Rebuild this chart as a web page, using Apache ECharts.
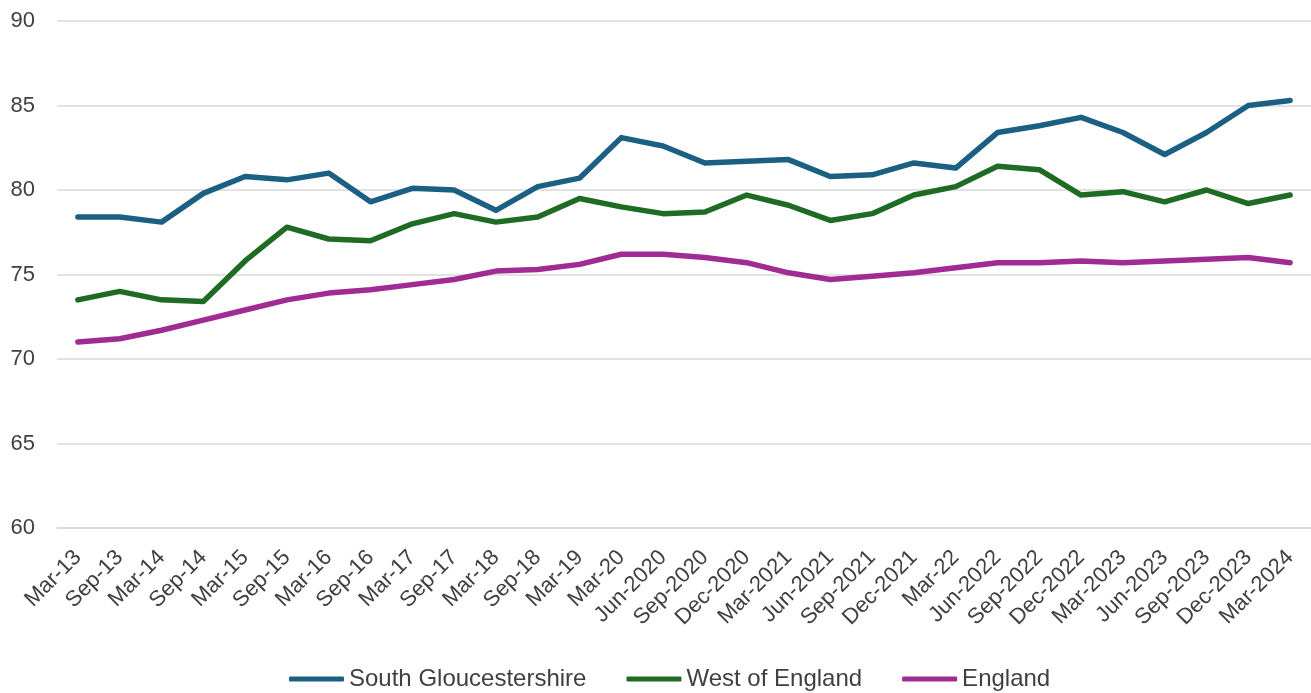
<!DOCTYPE html>
<html>
<head>
<meta charset="utf-8">
<script src="https://cdn.jsdelivr.net/npm/echarts@6/dist/echarts.min.js"></script>
<style>
html,body{margin:0;padding:0;background:#fff;}
#chart{width:1311px;height:693px;}
</style>
</head>
<body>
<div id="chart"></div>
<script>
const categories = ["Mar-13","Sep-13","Mar-14","Sep-14","Mar-15","Sep-15","Mar-16","Sep-16","Mar-17","Sep-17","Mar-18","Sep-18","Mar-19","Mar-20","Jun-2020","Sep-2020","Dec-2020","Mar-2021","Jun-2021","Sep-2021","Dec-2021","Mar-22","Jun-2022","Sep-2022","Dec-2022","Mar-2023","Jun-2023","Sep-2023","Dec-2023","Mar-2024"];
const southGlos = [78.4,78.4,78.1,79.8,80.8,80.6,81.0,79.3,80.1,80.0,78.8,80.2,80.7,83.1,82.6,81.6,81.7,81.8,80.8,80.9,81.6,81.3,83.4,83.8,84.3,83.4,82.1,83.4,85.0,85.3];
const westEngland = [73.5,74.0,73.5,73.4,75.8,77.8,77.1,77.0,78.0,78.6,78.1,78.4,79.5,79.0,78.6,78.7,79.7,79.1,78.2,78.6,79.7,80.2,81.4,81.2,79.7,79.9,79.3,80.0,79.2,79.7];
const england = [71.0,71.2,71.7,72.3,72.9,73.5,73.9,74.1,74.4,74.7,75.2,75.3,75.6,76.2,76.2,76.0,75.7,75.1,74.7,74.9,75.1,75.4,75.7,75.7,75.8,75.7,75.8,75.9,76.0,75.7];
const seriesNames = ["South Gloucestershire","West of England","England"];
const colors = ["#1B6083","#1E6B23","#A02B93"];

const chart = echarts.init(document.getElementById('chart'));
const font = "'Liberation Sans', Arial, sans-serif";
const mk = (name, data, color) => ({
  name, type: 'line', data, symbol: 'none', smooth: false,
  lineStyle: {width: 5.5, color, cap: 'round', join: 'round'},
  itemStyle: {color}
});
chart.setOption({
  animation: false,
  textStyle: {fontFamily: font},
  grid: {left: 57, right: 0, top: 21, bottom: 165, containLabel: false},
  xAxis: {
    type: 'category', data: categories, boundaryGap: true,
    axisLine: {show: true, lineStyle: {color: '#d9d9d9', width: 1.5}},
    axisTick: {show: false},
    axisLabel: {rotate: 45, fontSize: 22, color: '#404040', fontFamily: font, margin: 26, interval: 0}
  },
  yAxis: {
    type: 'value', min: 60, max: 90, interval: 5,
    axisLine: {show: false}, axisTick: {show: false},
    splitLine: {lineStyle: {color: '#d9d9d9', width: 1.5}},
    axisLabel: {fontSize: 22, color: '#404040', fontFamily: font, margin: 22}
  },
  legend: {
    top: 662, left: 284, itemWidth: 55, itemHeight: 5, itemGap: 40,
    icon: 'roundRect',
    textStyle: {fontSize: 24, color: '#404040', fontFamily: font},
    data: seriesNames
  },
  series: [
    mk(seriesNames[0], southGlos, colors[0]),
    mk(seriesNames[1], westEngland, colors[1]),
    mk(seriesNames[2], england, colors[2])
  ]
});
</script>
</body>
</html>
